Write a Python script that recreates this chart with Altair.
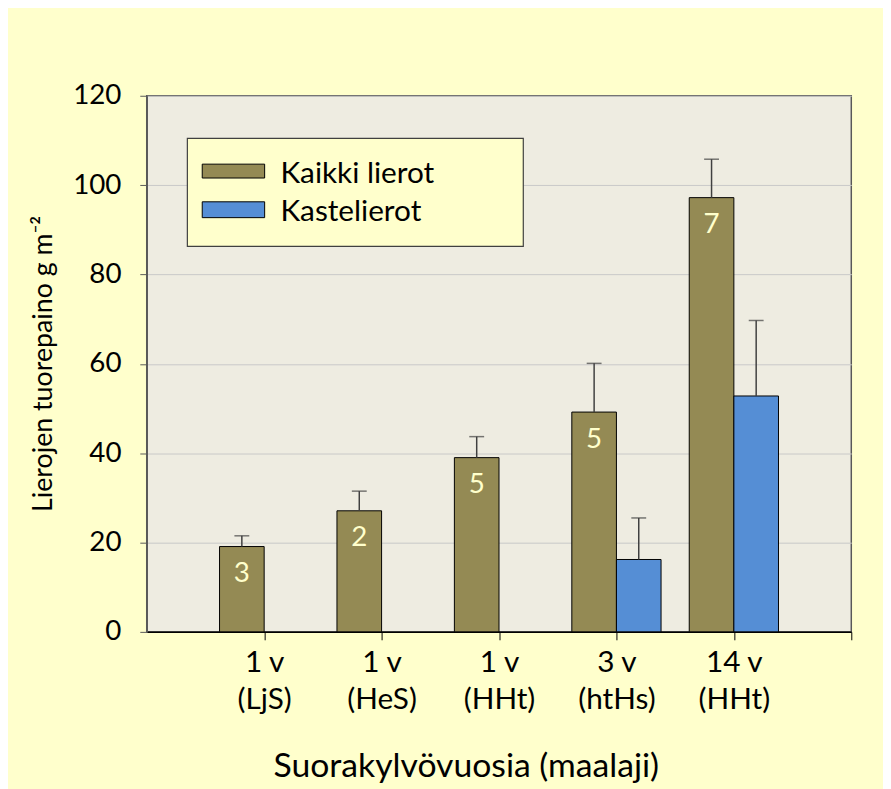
import altair as alt
import pandas as pd

# ---- data ----
positions = [1, 2, 3, 4, 5]
label_line1 = ["1 v", "1 v", "1 v", "3 v", "14 v"]
label_line2 = ["(LjS)", "(HeS)", "(HHt)", "(htHs)", "(HHt)"]
kaikki = [19.1, 27.1, 39.0, 49.2, 97.2]
kaikki_err = [2.4, 4.4, 4.7, 10.9, 8.6]
kaikki_n = ["3", "2", "5", "5", "7"]
kasteli_pos = [4, 5]
kasteli = [16.2, 52.8]
kasteli_err = [9.3, 16.9]
series = ["Kaikki lierot", "Kastelierot"]
colors = ["#948A54", "#558ED5"]

FONT = "Lato"
BAR_W = 0.38
FS = 27
FS_X = 30
FS_LEG = 30

df_k = pd.DataFrame({
    "pos": positions,
    "value": kaikki,
    "err": kaikki_err,
    "n": kaikki_n,
})
df_k["x0"] = df_k["pos"] - BAR_W
df_k["x1"] = df_k["pos"]
df_k["xc"] = df_k["pos"] - BAR_W / 2
df_k["top"] = df_k["value"] + df_k["err"]

df_b = pd.DataFrame({"pos": kasteli_pos, "value": kasteli, "err": kasteli_err})
df_b["x0"] = df_b["pos"]
df_b["x1"] = df_b["pos"] + BAR_W
df_b["xc"] = df_b["pos"] + BAR_W / 2
df_b["top"] = df_b["value"] + df_b["err"]

xscale = alt.Scale(domain=[0, 6], nice=False, zero=False)
yscale = alt.Scale(domain=[0, 120], nice=False)

# label expression for two-line category labels
expr = "''"
for p, a, b in reversed(list(zip(positions, label_line1, label_line2))):
    expr = f"datum.value == {p} ? ['{a}', '{b}'] : " + expr

xaxis = alt.Axis(
    values=[1, 2, 3, 4, 5, 6], labelExpr=expr, grid=False,
    tickSize=8, tickColor="#000000", tickWidth=1,
    domainColor="#000000", domainWidth=1.5,
    labelFont=FONT, labelFontSize=FS_X, labelColor="#000000",
    labelLineHeight=37, labelPadding=8, labelOverlap=False, labelFlush=False,
    labelBaseline="top",
    title="Suorakylvövuosia (maalaji)", titleFont=FONT, titleFontSize=34,
    titleFontWeight="normal", titleColor="#000000",
    titleX=322, titleY=136, titleBaseline="middle", titleAlign="center",
)
yaxis = alt.Axis(
    values=[0, 20, 40, 60, 80, 100, 120], grid=True,
    gridColor="#C8C8C8", gridWidth=1,
    tickSize=7, tickColor="#595959", domainColor="#595959", domainWidth=1.5,
    labelFont=FONT, labelFontSize=28, labelColor="#000000", labelPadding=19,
    title="Lierojen tuorepaino g m⁻²", titleFont=FONT, titleFontSize=FS,
    titleFontWeight="normal", titleColor="#000000",
    titleX=-104, titleY=270, titleAngle=270, titleBaseline="middle", titleAlign="center",
)

X = lambda f: alt.X(f, scale=xscale, axis=xaxis)
Y = lambda f: alt.Y(f, scale=yscale, axis=yaxis)

bars_k = alt.Chart(df_k).mark_bar(
    color=colors[0], stroke="#000000", strokeWidth=1
).encode(x=X("x0:Q"), x2="x1:Q", y=Y("value:Q"), y2=alt.datum(0))
bars_b = alt.Chart(df_b).mark_bar(
    color=colors[1], stroke="#000000", strokeWidth=1
).encode(x=X("x0:Q"), x2="x1:Q", y=Y("value:Q"), y2=alt.datum(0))

def errbars(df):
    rule = alt.Chart(df).mark_rule(color="#404040", strokeWidth=1.5).encode(
        x=X("xc:Q"), y=Y("value:Q"), y2="top:Q",
    )
    cap = alt.Chart(df).mark_tick(
        color="#404040", orient="horizontal", size=15, thickness=1.5
    ).encode(x=X("xc:Q"), y=Y("top:Q"))
    return rule + cap

nlabels = alt.Chart(df_k).mark_text(
    font=FONT, fontSize=28, color="#FFFFCC", dy=28, baseline="middle", align="center"
).encode(x=X("xc:Q"), y=Y("value:Q"), text="n:N")

# ---- legend box ----
one = pd.DataFrame({"s": [series[0]]})
two = pd.DataFrame({"s": [series[1]]})
leg_box = alt.Chart(one).mark_rect(
    fill="#FFFFCC", stroke="#404040", strokeWidth=1.2
).encode(x=alt.value(41), x2=alt.value(380), y=alt.value(43), y2=alt.value(152))
leg_sym1 = alt.Chart(one).mark_rect(
    fill=colors[0], stroke="#000000", strokeWidth=1
).encode(x=alt.value(56), x2=alt.value(119), y=alt.value(69), y2=alt.value(83))
leg_sym2 = alt.Chart(two).mark_rect(
    fill=colors[1], stroke="#000000", strokeWidth=1
).encode(x=alt.value(56), x2=alt.value(119), y=alt.value(107), y2=alt.value(123))
leg_t1 = alt.Chart(one).mark_text(
    font=FONT, fontSize=FS_LEG, color="#000000", align="left", baseline="middle"
).encode(x=alt.value(135), y=alt.value(79), text="s:N")
leg_t2 = alt.Chart(two).mark_text(
    font=FONT, fontSize=FS_LEG, color="#000000", align="left", baseline="middle"
).encode(x=alt.value(135), y=alt.value(117), text="s:N")

chart = alt.layer(
    bars_k, bars_b, errbars(df_k), errbars(df_b), nlabels,
    leg_box, leg_sym1, leg_sym2, leg_t1, leg_t2,
).properties(
    width=711, height=541,
    autosize=alt.AutoSizeParams(type="none"),
    padding={"left": 140, "top": 85, "right": 32, "bottom": 155},
    background="#FFFFCC",
).configure_view(
    fill="#EEECE1", stroke="#595959", strokeWidth=1.5
)

chart.save("out.html", embed_options={"renderer": "svg", "actions": False})
